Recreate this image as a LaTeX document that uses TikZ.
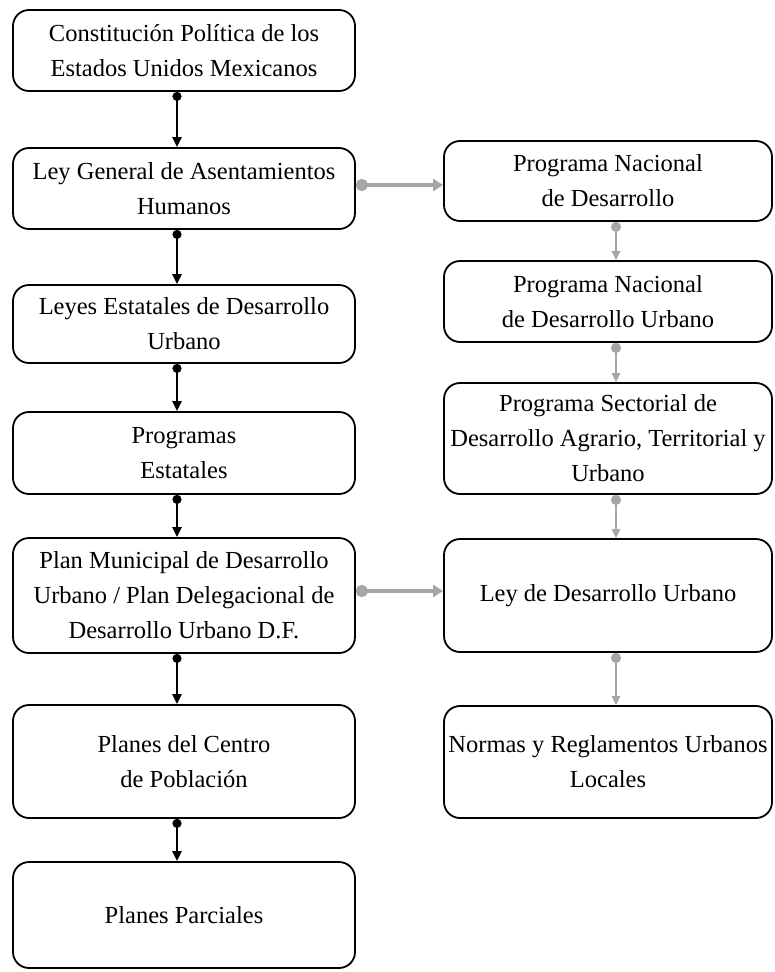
\documentclass[tikz,border=0pt]{standalone}
\usepackage{fontspec}
\setmainfont{Liberation Serif}
\usetikzlibrary{arrows.meta}
\definecolor{arrgray}{HTML}{A6A6A6}
\begin{document}
\begin{tikzpicture}[x=1pt,y=-1pt,
  box/.style={draw=black, line width=1.8pt, rounded corners=16pt, align=center,
    font=\fontsize{24.5}{35}\selectfont, inner sep=0pt},
  lbox/.style={box, minimum width=342pt},
  rbox/.style={box, minimum width=328pt},
  blk/.style={line width=2.4pt, black,
    {Circle[length=9pt,width=9pt]}-{Triangle[length=10pt,width=9pt]}},
  gryv/.style={line width=2.4pt, arrgray,
    {Circle[length=10pt,width=10pt]}-{Triangle[length=9pt,width=8pt]}},
  gryh/.style={line width=4.2pt, arrgray,
    {Circle[length=12pt,width=12pt]}-{Triangle[length=10pt,width=12pt]}},
]
\useasboundingbox (0,0) rectangle (774,972);

% left column
\node[lbox, minimum height=81pt]  (b1) at (184,50.5)  {Constitución Política de los\\Estados Unidos Mexicanos};
\node[lbox, minimum height=81pt]  (b2) at (184,188.5) {Ley General de Asentamientos\\Humanos};
\node[lbox, minimum height=78pt]  (b3) at (184,324)   {Leyes Estatales de Desarrollo\\Urbano};
\node[lbox, minimum height=82pt]  (b4) at (184,453)   {Programas\\Estatales};
\node[lbox, minimum height=115pt] (b5) at (184,595.5) {Plan Municipal de Desarrollo\\Urbano / Plan Delegacional de\\Desarrollo Urbano D.F.};
\node[lbox, minimum height=113pt] (b6) at (184,761.5) {Planes del Centro\\de Población};
\node[lbox, minimum height=106pt] (b7) at (184,915)   {Planes Parciales};

% right column
\node[rbox, minimum height=80pt]  (r1) at (608,181)   {Programa Nacional\\de Desarrollo};
\node[rbox, minimum height=81pt]  (r2) at (608,301.5) {Programa Nacional\\de Desarrollo Urbano};
\node[rbox, minimum height=111pt] (r3) at (608,438.5) {Programa Sectorial de\\Desarrollo Agrario, Territorial y\\Urbano};
\node[rbox, minimum height=113pt] (r4) at (608,595.5) {Ley de Desarrollo Urbano};
\node[rbox, minimum height=112pt] (r5) at (608,762)   {Normas y Reglamentos Urbanos\\Locales};

\coordinate (lx) at (177,0);
\coordinate (rx) at (616,0);
\coordinate (h1) at (0,185);
\coordinate (h2) at (0,591);

\draw[blk] (b1.south -| lx) -- (b2.north -| lx);
\draw[blk] (b2.south -| lx) -- (b3.north -| lx);
\draw[blk] (b3.south -| lx) -- (b4.north -| lx);
\draw[blk] (b4.south -| lx) -- (b5.north -| lx);
\draw[blk] (b5.south -| lx) -- (b6.north -| lx);
\draw[blk] (b6.south -| lx) -- (b7.north -| lx);

\draw[gryv] (r1.south -| rx) -- (r2.north -| rx);
\draw[gryv] (r2.south -| rx) -- (r3.north -| rx);
\draw[gryv] (r3.south -| rx) -- (r4.north -| rx);
\draw[gryv] (r4.south -| rx) -- (r5.north -| rx);

\draw[gryh] (b2.east |- h1) -- (r1.west |- h1);
\draw[gryh] (b5.east |- h2) -- (r4.west |- h2);
\end{tikzpicture}
\end{document}
